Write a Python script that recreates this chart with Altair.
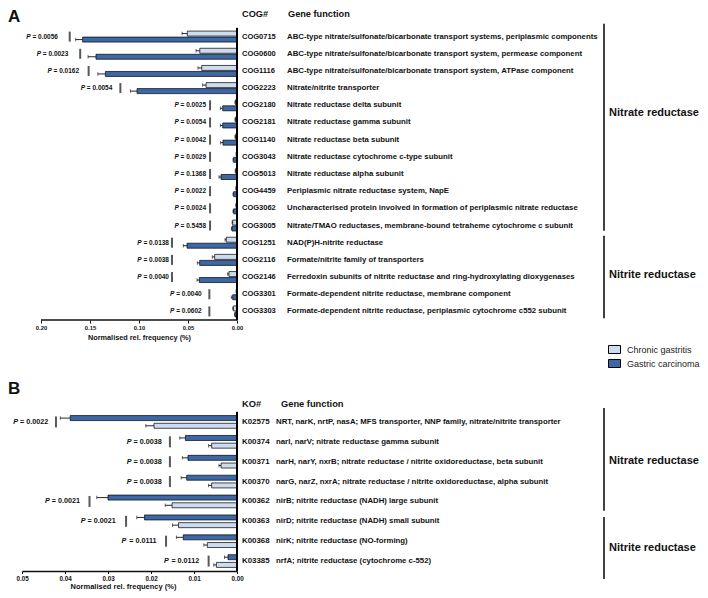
import altair as alt
import pandas as pd

CG = "Chronic gastritis"
GC = "Gastric carcinoma"

# ---------------- Panel A : COG ----------------
cog_ids = ["COG0715", "COG0600", "COG1116", "COG2223", "COG2180", "COG2181",
           "COG1140", "COG3043", "COG5013", "COG4459", "COG3062", "COG3005",
           "COG1251", "COG2116", "COG2146", "COG3301", "COG3303"]
cog_functions = [
    "ABC-type nitrate/sulfonate/bicarbonate transport systems, periplasmic components",
    "ABC-type nitrate/sulfonate/bicarbonate transport system, permease component",
    "ABC-type nitrate/sulfonate/bicarbonate transport system, ATPase component",
    "Nitrate/nitrite transporter",
    "Nitrate reductase delta subunit",
    "Nitrate reductase gamma subunit",
    "Nitrate reductase beta subunit",
    "Nitrate reductase cytochrome c-type subunit",
    "Nitrate reductase alpha subunit",
    "Periplasmic nitrate reductase system, NapE",
    "Uncharacterised protein involved in formation of periplasmic nitrate reductase",
    "Nitrate/TMAO reductases, membrane-bound tetraheme cytochrome c subunit",
    "NAD(P)H-nitrite reductase",
    "Formate/nitrite family of transporters",
    "Ferredoxin subunits of nitrite reductase and ring-hydroxylating dioxygenases",
    "Formate-dependent nitrite reductase, membrane component",
    "Formate-dependent nitrite reductase, periplasmic cytochrome c552 subunit",
]
cg_mean_a = [0.0507, 0.0380, 0.0360, 0.0316, 0.0015, 0.0015, 0.0015, 0.0006, 0.0014,
             0.0008, 0.0008, 0.0044, 0.0109, 0.0228, 0.0082, 0.0006, 0.0037]
cg_err_a = [0.0054, 0.0038, 0.0038, 0.0034, 0.0006, 0.0006, 0.0006, 0.0003, 0.0005,
            0.0003, 0.0003, 0.0006, 0.0013, 0.0024, 0.0013, 0.0003, 0.0006]
gc_mean_a = [0.1575, 0.1439, 0.1343, 0.1020, 0.0146, 0.0146, 0.0143, 0.0034, 0.0163,
             0.0034, 0.0034, 0.0051, 0.0510, 0.0381, 0.0384, 0.0044, 0.0020]
gc_err_a = [0.0071, 0.0081, 0.0077, 0.0068, 0.0024, 0.0024, 0.0024, 0.0007, 0.0021,
            0.0007, 0.0007, 0.0007, 0.0038, 0.0024, 0.0024, 0.0014, 0.0006]
p_values_a = ["0.0056", "0.0023", "0.0162", "0.0054", "0.0025", "0.0054", "0.0042",
              "0.0029", "0.1368", "0.0022", "0.0024", "0.5458", "0.0138", "0.0038",
              "0.0040", "0.0040", "0.0602"]
# where the P annotations sit (data units of the x axis)
p_marker_a = [0.1707, 0.1600, 0.1514, 0.1190, 0.0275, 0.0275, 0.0275, 0.0275, 0.0275,
              0.0275, 0.0275, 0.0275, 0.0663, 0.0663, 0.0663, 0.0282, 0.0282]
p_label_a = [0.1827, 0.1721, 0.1612, 0.1272, 0.0316, 0.0316, 0.0316, 0.0316, 0.0316,
             0.0316, 0.0316, 0.0316, 0.0694, 0.0694, 0.0694, 0.0360, 0.0360]

# ---------------- Panel B : KO ----------------
ko_ids = ["K02575", "K00374", "K00371", "K00370", "K00362", "K00363", "K00368", "K03385"]
ko_functions = [
    "NRT, narK, nrtP, nasA; MFS transporter, NNP family, nitrate/nitrite transporter",
    "narI, narV; nitrate reductase gamma subunit",
    "narH, narY, nxrB; nitrate reductase / nitrite oxidoreductase, beta subunit",
    "narG, narZ, nxrA; nitrate reductase / nitrite oxidoreductase, alpha subunit",
    "nirB; nitrite reductase (NADH) large subunit",
    "nirD; nitrite reductase (NADH) small subunit",
    "nirK; nitrite reductase (NO-forming)",
    "nrfA; nitrite reductase (cytochrome c-552)",
]
gc_mean_b = [0.0388, 0.0120, 0.0114, 0.0117, 0.0300, 0.0215, 0.0125, 0.0021]
gc_err_b = [0.0023, 0.0013, 0.0013, 0.0013, 0.0026, 0.0018, 0.0016, 0.0008]
cg_mean_b = [0.0193, 0.0059, 0.0037, 0.0059, 0.0151, 0.0136, 0.0069, 0.0048]
cg_err_b = [0.0019, 0.0007, 0.0005, 0.0007, 0.0016, 0.0014, 0.0008, 0.0006]
p_values_b = ["0.0022", "0.0038", "0.0038", "0.0038", "0.0021", "0.0021", "0.0111", "0.0112"]
p_marker_b = [0.0421, 0.0156, 0.0156, 0.0156, 0.0343, 0.0258, 0.0165, 0.0066]
p_label_b = [0.0439, 0.0175, 0.0175, 0.0175, 0.0365, 0.0282, 0.0187, 0.0088]

FONT = "Liberation Sans, Arial, Helvetica, sans-serif"
LIGHT = "#cddcee"
DARK = "#3c68a6"
INK = "#111111"
W = 215


def make_panel(ids, funcs, cg_mean, cg_err, gc_mean, gc_err, pvals, pmark, plabel,
               offset_order, pad_in, pad_out, xmax, tick_values, height, axis_kw,
               fs, headers, brackets, letter, letter_y, axis_rule):
    recs = []
    for i, r in enumerate(ids):
        recs.append({"row": r, "group": CG, "mean": cg_mean[i], "upper": cg_mean[i] + cg_err[i]})
        recs.append({"row": r, "group": GC, "mean": gc_mean[i], "upper": gc_mean[i] + gc_err[i]})
    bars_df = pd.DataFrame(recs)
    rows_df = pd.DataFrame({"row": ids, "func": funcs, "ptext": ["= " + p for p in pvals],
                            "pmark": pmark, "plabel": plabel, "zero": [0.0] * len(ids)})
    step = height / len(ids)

    yscale = alt.Scale(domain=ids, paddingInner=0, paddingOuter=0)

    def Y(field="row", band=None):
        if band is None:
            return alt.Y(f"{field}:N", scale=yscale, axis=None)
        return alt.Y(f"{field}:N", scale=yscale, axis=None, bandPosition=band)

    YO = alt.YOffset("group:N", scale=alt.Scale(domain=offset_order, paddingInner=pad_in,
                                                paddingOuter=pad_out))
    xscale = alt.Scale(domain=[0, xmax], reverse=True, nice=False, zero=True)
    xaxis = alt.Axis(values=tick_values, format=".2f", grid=False, **axis_kw)

    def X(field):
        return alt.X(f"{field}:Q", scale=xscale, axis=xaxis)

    color = alt.Color("group:N", scale=alt.Scale(domain=[CG, GC], range=[LIGHT, DARK]),
                      legend=alt.Legend(title=None, orient="none", legendX=586, legendY=315,
                                        symbolType="M-1,-0.667H1V0.667H-1Z", symbolSize=144,
                                        symbolStrokeColor="black", symbolStrokeWidth=1,
                                        labelFont=FONT, labelFontSize=9, labelColor="#222",
                                        labelOffset=6, rowPadding=1, padding=0))

    bb = alt.Chart(bars_df)
    rb = alt.Chart(rows_df)
    layers = [
        bb.mark_bar(stroke="black", strokeWidth=0.7).encode(
            y=Y(), yOffset=YO, x=X("mean"), color=color),
        bb.mark_rule(color=INK, strokeWidth=0.9).encode(
            y=Y(), yOffset=YO, x=X("mean"), x2="upper"),
        bb.mark_tick(color=INK, thickness=0.9, size=3.5).encode(
            y=Y(), yOffset=YO, x=X("upper")),
        # vertical baseline at zero, one segment per row so it runs the full height
        rb.mark_tick(color="black", thickness=2, size=step + 0.5).encode(
            y=Y(), x=X("zero")),
        alt.Chart(pd.DataFrame({"k": [0]})).mark_rule(color="black", strokeWidth=2).encode(
            x=alt.value(W), y=alt.value(0), y2=alt.value(height)),
    ]
    layers += [
        rb.mark_tick(color=INK, thickness=2, size=fs["ptick"]).encode(y=Y(), x=X("pmark")),
        rb.mark_text(align="right", baseline="middle", font=FONT, fontSize=fs["p"],
                     fontWeight="bold", color=INK).encode(y=Y(), x=X("plabel"), text="ptext:N"),
        rb.mark_text(align="right", baseline="middle", font=FONT, fontSize=fs["p"],
                     fontWeight="bold", fontStyle="italic", color=INK,
                     dx=-fs["p"] * 4.2).encode(y=Y(), x=X("plabel"), text=alt.value("P")),
        rb.mark_text(align="left", baseline="middle", font=FONT, fontSize=fs["id"],
                     fontWeight="bold", color=INK).encode(y=Y(), x=alt.value(W + 5), text="row:N"),
        rb.mark_text(align="left", baseline="middle", font=FONT, fontSize=fs["func"],
                     fontWeight="bold", color=INK).encode(y=Y(), x=alt.value(fs["func_x"]),
                                                          text="func:N"),
    ]
    for txt, hx in headers:
        layers.append(alt.Chart(pd.DataFrame({"t": [txt]})).mark_text(
            align="left", baseline="middle", font=FONT, fontSize=fs["hdr"], fontWeight="bold",
            color=INK).encode(text="t:N", x=alt.value(hx), y=alt.value(fs["hdr_y"])))
    for lab, a_end, b_end, lrow, lbp in brackets:
        # a_end: (row, bandPosition) anchored end; b_end: (row, bandPosition) or (None, pixel)
        bdf = pd.DataFrame({"a": [a_end[0]], "b": [b_end[0]], "lab": [lab], "lrow": [lrow]})
        y1 = Y("a", a_end[1])
        y2 = alt.value(b_end[1]) if b_end[0] is None else alt.Y2("b", bandPosition=b_end[1])
        layers.append(alt.Chart(bdf).mark_rule(color=INK, strokeWidth=1.6).encode(
            x=alt.value(582), y=y1, y2=y2))
        layers.append(alt.Chart(bdf).mark_text(
            align="left", baseline="middle", font=FONT, fontSize=11, fontWeight="bold",
            color=INK).encode(x=alt.value(587), y=Y("lrow", lbp), text="lab:N"))
    layers.append(alt.Chart(pd.DataFrame({"t": [letter]})).mark_text(
        align="left", baseline="top", font=FONT, fontSize=17, fontWeight="bold",
        color=INK).encode(text="t:N", x=alt.value(-14), y=alt.value(letter_y)))
    if axis_rule is not None:
        layers.append(alt.Chart(pd.DataFrame({"lo": [axis_rule[0]], "hi": [axis_rule[1]]})).mark_rule(
            color=INK, strokeWidth=1.5).encode(
            x=X("lo"), x2="hi", y=alt.value(height)))
    return alt.layer(*layers).properties(width=W, height=height)


axis_a = dict(domain=False, ticks=True, tickSize=3, tickColor=INK, tickWidth=1,
              labelFont=FONT, labelFontSize=5.8, labelFontWeight="bold", labelColor=INK,
              labelPadding=1, labelFlush=False,
              title="Normalised rel. frequency (%)", titleFont=FONT, titleFontSize=7.3,
              titleFontWeight="bold", titleColor=INK, titlePadding=4, titleX=117)
axis_b = dict(domain=True, domainColor=INK, domainWidth=1.5, ticks=True, tickSize=2.5,
              tickColor=INK, tickWidth=1,
              labelFont=FONT, labelFontSize=6.3, labelFontWeight="bold", labelColor=INK,
              labelPadding=1.5, labelFlush=False,
              title="Normalised rel. frequency (%)", titleFont=FONT, titleFontSize=7.5,
              titleFontWeight="bold", titleColor=INK, titlePadding=1.5, titleX=101)

panel_a = make_panel(
    cog_ids, cog_functions, cg_mean_a, cg_err_a, gc_mean_a, gc_err_a, p_values_a,
    p_marker_a, p_label_a, [CG, GC], 0.167, 0.515, 0.2 * W / 196,
    [0, 0.05, 0.10, 0.15, 0.20], 292, axis_a,
    {"ptick": 10, "p": 6.5, "id": 7.5, "func": 7.8, "func_x": 265, "hdr": 9.2, "hdr_y": -14},
    [("COG#", 220), ("Gene function", 266)],
    [("Nitrate reductase", ("COG3005", 0.8), (None, -4.3), "COG2180", 0.93),
     ("Nitrite reductase", ("COG1251", 0.1), ("COG3303", 0.9), "COG2146", 0.39)],
    "A", -19, (0, 0.2))

panel_b = make_panel(
    ko_ids, ko_functions, cg_mean_b, cg_err_b, gc_mean_b, gc_err_b, p_values_b,
    p_marker_b, p_label_b, [GC, CG], 0.35, 0.467, 0.05,
    [0, 0.01, 0.02, 0.03, 0.04, 0.05], 159, axis_b,
    {"ptick": 11, "p": 7.2, "id": 7.9, "func": 7.8, "func_x": 254, "hdr": 9.3, "hdr_y": -8.3},
    [("KO#", 220), ("Gene function", 259)],
    [("Nitrate reductase", ("K00362", 0.97), (None, -4), "K00371", 0.46),
     ("Nitrite reductase", ("K00363", 0.28), (None, 167), "K00368", 0.82)],
    "B", -31, None)

chart = alt.vconcat(panel_a, panel_b, spacing=92, bounds="flush").resolve_scale(
    yOffset="independent", color="shared"
).properties(padding=0, background="white").configure_view(strokeWidth=0)

chart.save("out.html", embed_options={"renderer": "svg", "actions": False})
